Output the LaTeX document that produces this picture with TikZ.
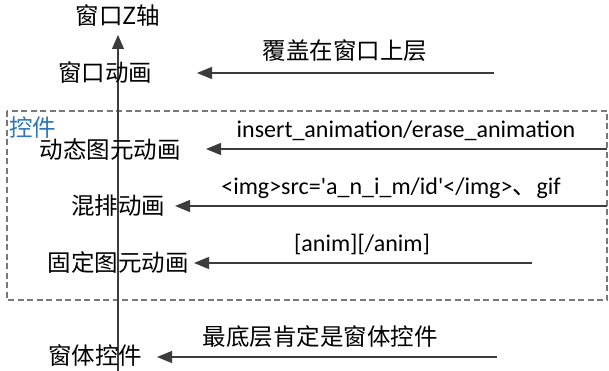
\documentclass[tikz,border=0pt]{standalone}
\usepackage{fontspec}
\setmainfont{Carlito}
\newfontfamily\cjk{Noto Sans CJK SC}
\usetikzlibrary{arrows.meta}
\definecolor{ctlblue}{RGB}{46,117,182}
\definecolor{boxgray}{RGB}{120,120,120}
\definecolor{linegray}{RGB}{60,60,60}
\begin{document}
\begin{tikzpicture}[x=1pt,y=-1pt,
  cn/.style={font=\cjk\fontsize{23.5}{26}\selectfont, inner sep=0pt, text=black},
  ln/.style={font=\fontsize{24}{26}\selectfont, inner sep=0pt, text=black},
  arr/.style={draw=linegray, line width=1.1pt, -{Triangle[length=15pt,width=12pt]}},
  dbox/.style={draw=boxgray, line width=1.1pt, dash pattern=on 6pt off 3.5pt}]
\useasboundingbox (0,0) rectangle (609,371);
% dashed frame
\draw[dbox] (7,111) rectangle (607,300);
\node[cn, text=ctlblue, anchor=west] (ctl) at (9,128) {控件};
% axis
\node[cn] (title) at (118,16) {窗口Z轴};
\coordinate (axbot) at (118,371);
\coordinate (axtop) at (118,35);
\draw[draw=linegray, line width=1.1pt, -{Triangle[length=14pt,width=12pt]}] (axbot) -- (axtop);
% layers
\node[cn] (win) at (105,73) {窗口动画};
\node[cn] (dyn) at (110,150) {动态图元动画};
\node[cn] (mix) at (118,206) {混排动画};
\node[cn] (fix) at (118,263) {固定图元动画};
\node[cn] (form) at (95,356) {窗体控件};
% arrow ends
\coordinate (s1) at (494,73);   \coordinate (t1) at (197,73);
\coordinate (s2) at (607,149);  \coordinate (t2) at (206,149);
\coordinate (s3) at (607,206);  \coordinate (t3) at (175,206);
\coordinate (s4) at (532,263);  \coordinate (t4) at (194,263);
\coordinate (s5) at (497,357);  \coordinate (t5) at (157,357);
\draw[arr] (s1) -- (t1);
\draw[arr] (s2) -- (t2);
\draw[arr] (s3) -- (t3);
\draw[arr] (s4) -- (t4);
\draw[arr] (s5) -- (t5);
% labels
\node[cn] (l1) at (345,51) {覆盖在窗口上层};
\node[ln] (l2) at (406,131) {insert\_animation/erase\_animation};
\node[ln] (l3) at (391,188) {<img>src=\textquotesingle a\_n\_i\_m/id\textquotesingle</img>{\cjk 、}gif};
\node[ln] (l4) at (362,244) {[anim][/anim]};
\node[cn] (l5) at (320,337) {最底层肯定是窗体控件};
\end{tikzpicture}
\end{document}
